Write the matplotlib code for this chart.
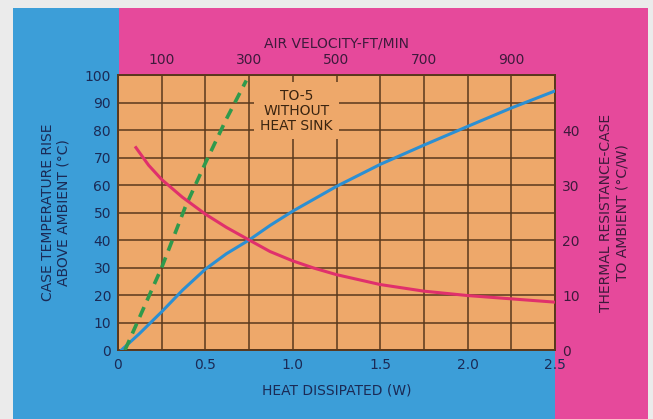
import matplotlib
matplotlib.use("Agg")
import matplotlib.pyplot as plt
from matplotlib.patches import Rectangle

# heat dissipated (W) vs case temperature rise (degC) -- with heat sink
heat_w = [0.02, 0.12, 0.25, 0.37, 0.5, 0.62, 0.75, 0.87, 1.0, 1.125,
          1.25, 1.5, 1.75, 2.0, 2.25, 2.5]
rise_c = [0, 5.8, 13.9, 21.8, 29.4, 35, 40, 45.3, 50.5, 55,
          59.5, 67.5, 74.5, 81.3, 88, 94.2]

# TO-5 without heat sink
to5_w = [0.04, 0.25, 0.385, 0.5, 0.62, 0.734]
to5_c = [0, 30, 52, 68, 84, 98]

# air velocity (ft/min) vs thermal resistance case-to-ambient (degC/W)
air_v = [41, 70, 100, 147, 200, 248, 300, 348, 400, 448, 500,
         600, 700, 800, 900, 1000]
res_cw = [36.8, 33.6, 31.0, 27.8, 24.7, 22.3, 20, 17.9, 16.2, 14.9, 13.7,
          11.9, 10.7, 9.9, 9.3, 8.7]

x_ticks = [0, 0.5, 1.0, 1.5, 2.0, 2.5]
x_labels = ['0', '0.5', '1.0', '1.5', '2.0', '2.5']
top_ticks = [100, 300, 500, 700, 900]
left_ticks = list(range(0, 101, 10))
right_ticks = [0, 10, 20, 30, 40]

W, H = 653, 419
BLUE_BG = '#3c9ed8'
PINK_BG = '#e6499b'
ORANGE = '#eea86a'
GRID = '#5a381c'
NAVY = '#1b2a55'
PLUM = '#3e1a3c'

fig = plt.figure(figsize=(W / 100, H / 100), dpi=100, facecolor='#ebebeb')

def px_rect(x0, y0, x1, y1, color):
    # pixel box (top-left origin) -> figure fraction rectangle
    fig.add_artist(Rectangle((x0 / W, 1 - y1 / H), (x1 - x0) / W, (y1 - y0) / H,
                             transform=fig.transFigure, facecolor=color,
                             edgecolor='none', zorder=-10))

px_rect(13, 8, 119, 419, BLUE_BG)
px_rect(13, 350, 555, 419, BLUE_BG)
px_rect(119, 8, 648, 75, PINK_BG)
px_rect(555, 8, 648, 419, PINK_BG)

L, R, T, B = 118, 555, 75, 350
pos = [L / W, 1 - B / H, (R - L) / W, (B - T) / H]

ax = fig.add_axes(pos)
ax.set_facecolor(ORANGE)
ax.set_xlim(0, 2.5)
ax.set_ylim(0, 100)
ax.set_xticks([i * 0.25 for i in range(11)], minor=True)
ax.set_yticks(left_ticks)
ax.set_xticks(x_ticks)
ax.set_xticklabels(x_labels)
ax.grid(True, which='both', color=GRID, lw=1.1)
ax.set_axisbelow(True)
ax.tick_params(which='both', length=0)
ax.tick_params(axis='x', pad=6, labelsize=10, labelcolor=NAVY)
ax.tick_params(axis='y', pad=5, labelsize=10, labelcolor=NAVY)
for s in ax.spines.values():
    s.set_color(GRID)
    s.set_linewidth(1.4)

ax.plot(heat_w, rise_c, color='#2b8fd3', lw=2.2, zorder=3)
ax.plot(to5_w, to5_c, color='#2f9a4c', lw=2.6, ls=(0, (3, 2)), zorder=3)

ax.text(1.02, 87, 'TO-5\nWITHOUT\nHEAT SINK', ha='center', va='center',
        fontsize=10, color='#3a2410', linespacing=1.1, zorder=1.5,
        bbox=dict(boxstyle='square,pad=0.45', facecolor=ORANGE, edgecolor='none'))

ax.set_ylabel('CASE TEMPERATURE RISE\nABOVE AMBIENT (°C)', color=NAVY,
              fontsize=10, labelpad=10)
ax.set_xlabel('HEAT DISSIPATED (W)', color=NAVY, fontsize=10, labelpad=8)

# air velocity / thermal resistance on top and right axes
ax2 = fig.add_axes(pos, frameon=False)
ax2.patch.set_visible(False)
ax2.set_xlim(0, 1000)
ax2.set_ylim(0, 50)
ax2.xaxis.tick_top()
ax2.xaxis.set_label_position('top')
ax2.yaxis.tick_right()
ax2.yaxis.set_label_position('right')
ax2.set_xticks(top_ticks)
ax2.set_yticks(right_ticks)
ax2.tick_params(length=0, labelsize=10, labelcolor=PLUM)
ax2.tick_params(axis='x', pad=6)
ax2.tick_params(axis='y', pad=5)
ax2.plot(air_v, res_cw, color='#e0306c', lw=2.2, zorder=3)
ax2.set_xlabel('AIR VELOCITY-FT/MIN', color=PLUM, fontsize=10, labelpad=4)
ax2.set_ylabel('THERMAL RESISTANCE-CASE\nTO AMBIENT (°C/W)', color=PLUM,
               fontsize=10, labelpad=14, rotation=90)

fig.savefig('out.png', dpi=100, facecolor=fig.get_facecolor())
